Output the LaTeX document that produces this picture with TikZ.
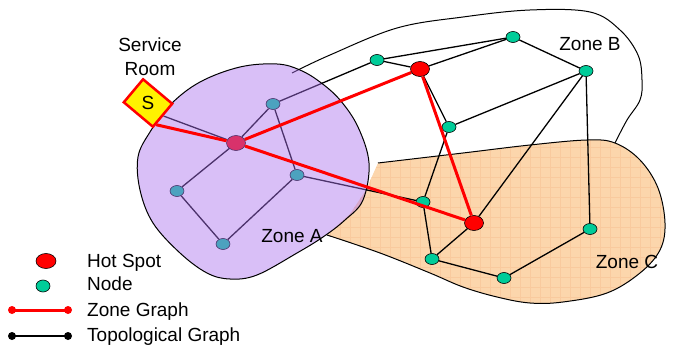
\documentclass[tikz,border=0pt]{standalone}
\usepackage{fontspec}
\setmainfont{Liberation Sans}
\usetikzlibrary{shapes.geometric,calc,patterns.meta}
\pgfdeclarelayer{zones}
\pgfdeclarelayer{graph}
\pgfdeclarelayer{over}
\pgfdeclarelayer{front}
\pgfsetlayers{zones,graph,main,over,front}
\definecolor{nodegreen}{RGB}{0,204,153}
\definecolor{zoneAfill}{RGB}{170,112,238}
\definecolor{zoneCfill}{RGB}{252,214,172}
\definecolor{zoneCgrid}{RGB}{249,202,158}
\definecolor{hotred}{RGB}{255,0,0}
\begin{document}
\begin{tikzpicture}[x=1pt,y=-1pt,
  font={\fontsize{19}{24}\selectfont},
  nd/.style={ellipse, draw=black, line width=0.6pt, fill=nodegreen, minimum width=14pt, minimum height=11pt, inner sep=0pt},
  hot/.style={ellipse, draw=black, line width=0.6pt, fill=hotred, minimum width=19pt, minimum height=15pt, inner sep=0pt},
  topo/.style={draw=black, line width=1.3pt},
  zg/.style={draw=hotred, line width=3pt},
  lbl/.style={inner sep=0pt, anchor=base},
  zoneline/.style={draw=black, line width=1pt}]
\useasboundingbox (0,0) rectangle (674,347);

% ---------- zones B and C ----------
\begin{pgfonlayer}{zones}
\draw[zoneline] plot[smooth, tension=0.6] coordinates {(292,73) (330,55) (397,28) (463,17) (530,10) (590,12) (620,30) (638,55) (642,80) (640,100) (627,120) (615,143)};
\path[fill=zoneCfill] (378,163) -- plot[smooth, tension=0.6] coordinates {(378,163) (463,153) (530,145) (587,140) (615,143) (640,160) (658,188) (665,223) (660,250) (640,273) (607,293) (563,302) (530,303) (497,297) (463,287) (430,273) (380,253) (327,235)} -- (350,214) -- (366,190) -- cycle;
\path[pattern={Lines[angle=0,distance=10pt,line width=0.7pt]}, pattern color=zoneCgrid] (378,163) -- plot[smooth, tension=0.6] coordinates {(378,163) (463,153) (530,145) (587,140) (615,143) (640,160) (658,188) (665,223) (660,250) (640,273) (607,293) (563,302) (530,303) (497,297) (463,287) (430,273) (380,253) (327,235)} -- (350,214) -- (366,190) -- cycle;
\path[pattern={Lines[angle=90,distance=10pt,line width=0.7pt]}, pattern color=zoneCgrid] (378,163) -- plot[smooth, tension=0.6] coordinates {(378,163) (463,153) (530,145) (587,140) (615,143) (640,160) (658,188) (665,223) (660,250) (640,273) (607,293) (563,302) (530,303) (497,297) (463,287) (430,273) (380,253) (327,235)} -- (350,214) -- (366,190) -- cycle;
\draw[zoneline] plot[smooth, tension=0.6] coordinates {(378,163) (463,153) (530,145) (587,140) (615,143) (640,160) (658,188) (665,223) (660,250) (640,273) (607,293) (563,302) (530,303) (497,297) (463,287) (430,273) (380,253) (327,235)};
\end{pgfonlayer}

% ---------- S box ----------
\begin{pgfonlayer}{front}
\node[rectangle, rotate=-40, draw=hotred, line width=2.5pt, fill=yellow, minimum width=38pt, minimum height=30pt, inner sep=0pt] (S) at (148,103) {\rotatebox{40}{S}};
\end{pgfonlayer}

% ---------- nodes ----------
\node[hot] (H1) at (236,143) {};
\node[hot] (H2) at (420,69) {};
\node[hot] (H3) at (474,223) {};
\node[nd] (n1) at (273,104) {};
\node[nd] (n2) at (297,175) {};
\node[nd] (n3) at (177,191) {};
\node[nd] (n4) at (223,244) {};
\node[nd] (n5) at (377,60) {};
\node[nd] (n6) at (513,37) {};
\node[nd] (n7) at (586,71) {};
\node[nd] (n8) at (449,127) {};
\node[nd] (n9) at (423,202) {};
\node[nd] (n10) at (432,259) {};
\node[nd] (n11) at (504,278) {};
\node[nd] (n12) at (590,229) {};

% ---------- topological graph ----------
\begin{pgfonlayer}{graph}
\draw[topo] (S.east) -- (H1);
\draw[topo] (H1) -- (n1);
\draw[topo] (n1) -- (n2);
\draw[topo] (H1) -- (n3);
\draw[topo] (n3) -- (n4);
\draw[topo] (n4) -- (n2);
\draw[topo] (n1) -- (n5);
\draw[topo] (n2) -- (n9);
\draw[topo] (n5) -- (n6);
\draw[topo] (n5) -- (H2);
\draw[topo] (H2) -- (n6);
\draw[topo] (n6) -- (n7);
\draw[topo] (n7) -- (n8);
\draw[topo] (H2) -- (n8);
\draw[topo] (n8) -- (n9);
\draw[topo] (n7) -- (H3);
\draw[topo] (n7) -- (n12);
\draw[topo] (n9) -- (n10);
\draw[topo] (H3) -- (n10);
\draw[topo] (n10) -- (n11);
\draw[topo] (n11) -- (n12);
\end{pgfonlayer}

% ---------- zone A overlay and zone graph ----------
\begin{pgfonlayer}{over}
\draw[zoneline, fill=zoneAfill, fill opacity=0.45] plot[smooth cycle, tension=0.6] coordinates {(200,82) (240,67) (277,64) (300,70) (320,82) (340,100) (358,127) (369,163) (363,200) (345,220) (323,237) (297,253) (257,275) (230,279) (207,273) (180,253) (153,223) (140,190) (138,157) (150,132) (170,105)};
\draw[zg] ($(S.east)!0.7!(S.south east)$) -- (H1);
\draw[zg] (H1) -- (H2);
\draw[zg] (H1) -- (H3);
\draw[zg] (H2) -- (H3);
\end{pgfonlayer}

% ---------- labels ----------
\begin{pgfonlayer}{front}
\node[inner sep=0pt, align=center, anchor=north] (svc) at (150,38) {Service\\Room};
\node[lbl] (zA) at (292,243) {Zone A};
\node[lbl] (zB) at (590,51) {Zone B};
\node[lbl] (zC) at (627,269) {Zone C};
\end{pgfonlayer}

% ---------- legend ----------
\node[hot, minimum width=20pt, minimum height=15pt] (LH) at (46,261) {};
\node[nd, minimum width=14pt, minimum height=12pt] (LN) at (43,286) {};
\coordinate (LZa) at (12,310);
\coordinate (LZb) at (68,310);
\coordinate (LTa) at (12,336);
\coordinate (LTb) at (68,336);
\draw[zg] (LZa) -- (LZb);
\fill[hotred] (LZa) circle (4pt) (LZb) circle (4pt);
\draw[topo, line width=2.2pt] (LTa) -- (LTb);
\fill[black] (LTa) circle (4pt) (LTb) circle (4pt);
\node[lbl, anchor=base west] (t1) at (87,267) {Hot Spot};
\node[lbl, anchor=base west] (t2) at (87,290) {Node};
\node[lbl, anchor=base west] (t3) at (87,316) {Zone Graph};
\node[lbl, anchor=base west] (t4) at (87,341) {Topological Graph};
\end{tikzpicture}
\end{document}
